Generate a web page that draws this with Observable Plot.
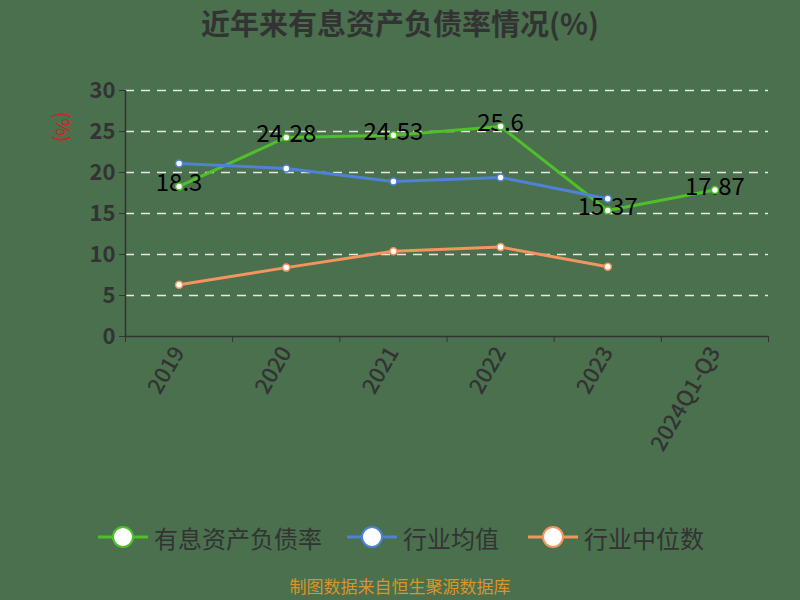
<!DOCTYPE html>
<html><head><meta charset="utf-8">
<script src="https://cdn.jsdelivr.net/npm/d3@7"></script>
<script src="https://cdn.jsdelivr.net/npm/@observablehq/plot@0.6"></script>
<style>
body{margin:0;background:#4a704e;font-family:"Noto Sans CJK SC","Noto Sans",sans-serif;}
#wrap{position:relative;width:800px;height:600px;overflow:hidden;}
#title{position:absolute;top:0;left:0;width:800px;text-align:center;font-size:29px;font-weight:bold;color:#333;line-height:44px;}
#chart{position:absolute;top:46px;left:0;}
#ylab{position:absolute;left:49px;top:115px;color:#d42020;font-size:19px;transform:rotate(90deg);transform-origin:center;line-height:24px;}
.leg{position:absolute;top:519px;display:flex;align-items:center;font-size:24px;color:#333;height:36px;}
.leg svg{margin-right:6px;}
#foot{position:absolute;top:575px;left:0;width:800px;text-align:center;font-size:17px;color:#d9952a;line-height:22px;}
</style></head>
<body><div id="wrap">
<div id="title">近年来有息资产负债率情况(%)</div>
<div id="chart"></div>
<div id="ylab">(%)</div>
<div id="legend"></div>
<div id="foot">制图数据来自恒生聚源数据库</div>
</div>
<script>
const categories = ["2019","2020","2021","2022","2023","2024Q1-Q3"];
const ratio = [18.3,24.28,24.53,25.6,15.37,17.87];
const industryMean = [21.1,20.5,18.9,19.4,16.8];
const industryMedian = [6.3,8.4,10.4,10.9,8.5];
const yTicks = [0,5,10,15,20,25,30];
const seriesNames = ["有息资产负债率","行业均值","行业中位数"];
const colors = ["#4fbf2a","#4f81d4","#f4945e"];

const rows = (arr) => arr.map((v,i)=>({x:i+0.5, v}));
const sRatio = rows(ratio), sMean = rows(industryMean), sMed = rows(industryMedian);

const chart = Plot.plot({
  width:800, height:460,
  marginTop:44, marginBottom:170, marginLeft:125, marginRight:32,
  style:{background:"transparent", fontFamily:'"Noto Sans CJK SC","Noto Sans",sans-serif', color:"#333", overflow:"visible"},
  x:{type:"linear", domain:[0, categories.length]},
  y:{domain:[0,30]},
  marks:[
    Plot.gridY(yTicks.slice(1), {stroke:"#e6e6e6", strokeOpacity:1, strokeDasharray:"9,7", strokeWidth:1.5}),
    Plot.axisY({ticks:yTicks, tickSize:6, tickPadding:4, fontSize:22, fontWeight:600, color:"#333", label:null}),
    Plot.ruleX([0], {stroke:"#333", strokeWidth:1.5}),
    Plot.ruleY([0], {stroke:"#333", strokeWidth:1.5}),
    Plot.axisX({ticks:d3.range(categories.length+1), tickFormat:()=>"", tickSize:6, color:"#333", label:null}),
    Plot.axisX({ticks:categories.map((c,i)=>i+0.5), tickFormat:v=>categories[Math.round(v-0.5)], tickSize:0, tickPadding:12, tickRotate:-60, fontSize:22, fontWeight:500, color:"#333", label:null}),
    Plot.line(sRatio, {x:"x", y:"v", stroke:colors[0], strokeWidth:3}),
    Plot.line(sMean, {x:"x", y:"v", stroke:colors[1], strokeWidth:3}),
    Plot.line(sMed, {x:"x", y:"v", stroke:colors[2], strokeWidth:3}),
    Plot.text(sRatio, {x:"x", y:"v", text:d=>String(d.v), fill:"#000", fontSize:24, dy:-3}),
    Plot.dot(sRatio, {x:"x", y:"v", r:3.5, fill:"#fff", stroke:colors[0], strokeWidth:1.5}),
    Plot.dot(sMean, {x:"x", y:"v", r:3.5, fill:"#fff", stroke:colors[1], strokeWidth:1.5}),
    Plot.dot(sMed, {x:"x", y:"v", r:3.5, fill:"#fff", stroke:colors[2], strokeWidth:1.5})
  ]
});
document.getElementById("chart").appendChild(chart);

const legendX = [98, 347, 528];
const leg = document.getElementById("legend");
seriesNames.forEach((name,i)=>{
  const d = document.createElement("div");
  d.className = "leg";
  d.style.left = legendX[i] + "px";
  d.innerHTML = `<svg width="50" height="30"><line x1="0" y1="15" x2="50" y2="15" stroke="${colors[i]}" stroke-width="3"/><circle cx="25" cy="15" r="10" fill="#fff" stroke="${colors[i]}" stroke-width="2"/></svg><span>${name}</span>`;
  leg.appendChild(d);
});
</script>
</body></html>
